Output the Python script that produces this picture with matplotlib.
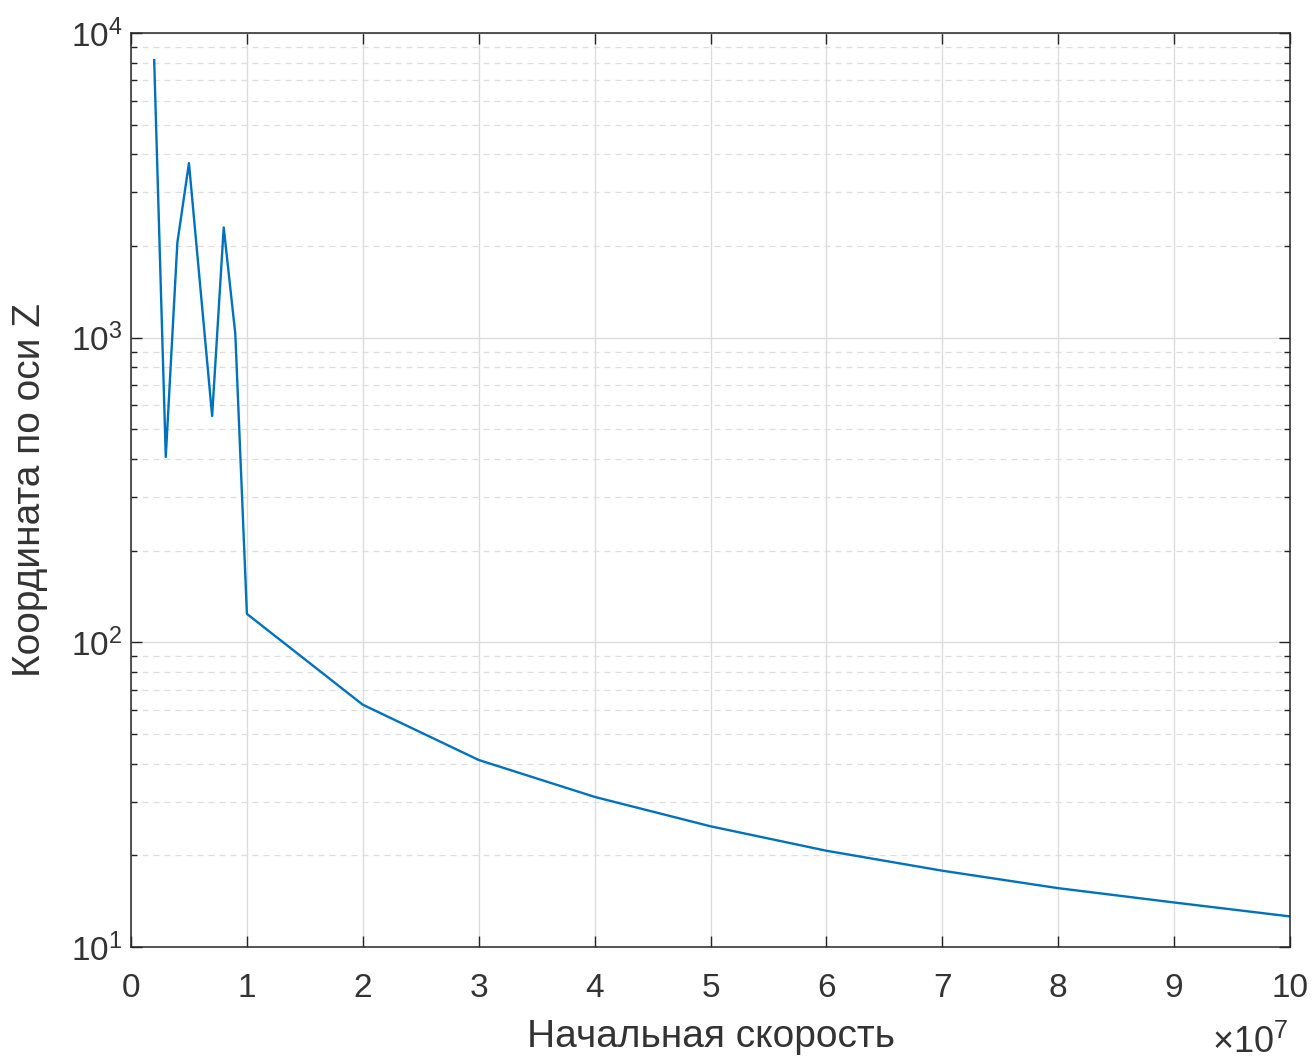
import math
import matplotlib
matplotlib.use("Agg")
import matplotlib.pyplot as plt
from matplotlib.ticker import FixedLocator, LogLocator, NullFormatter, FuncFormatter

plt.rcParams['font.family'] = ['Liberation Sans', 'DejaVu Sans']
plt.rcParams['mathtext.fontset'] = 'custom'
plt.rcParams['mathtext.rm'] = 'Liberation Sans'
plt.rcParams['mathtext.it'] = 'Liberation Sans'

# Data (x in units of 1e7)
velocity = [0.2, 0.3, 0.4, 0.5, 0.7, 0.8, 0.9, 1.0, 2, 3, 4, 5, 6, 7, 8, 9, 10]
coord_z = [8150, 406, 2050, 3740, 553, 2300, 1028, 124, 62.4, 41.1, 31.1, 24.9,
           20.7, 17.8, 15.6, 14.0, 12.6]
x_ticks = [0, 1, 2, 3, 4, 5, 6, 7, 8, 9, 10]
x_label = "Начальная скорость"
y_label = "Координата по оси Z"

fg = '#333333'
fig = plt.figure(figsize=(13.13, 10.59), dpi=100)
ax = fig.add_axes([131/1313, 1-947/1059, (1290-131)/1313, (947-33)/1059])

ax.plot([v*1e7 for v in velocity], coord_z, color='#0072BD', lw=1.7)
ax.set_yscale('log')
ax.set_xlim(0, 1e8)
ax.set_ylim(10, 1e4)

ax.xaxis.set_major_locator(FixedLocator([t*1e7 for t in x_ticks]))
ax.xaxis.set_major_formatter(FuncFormatter(lambda v, p: f"{v/1e7:g}"))
ax.yaxis.set_major_locator(LogLocator(base=10, numticks=10))
ax.yaxis.set_minor_locator(LogLocator(base=10, subs=range(2, 10), numticks=20))
ax.yaxis.set_minor_formatter(NullFormatter())
ax.yaxis.set_major_formatter(FuncFormatter(lambda v, p: r"$10^{%d}$" % round(math.log10(v))))

ax.grid(True, which='major', color='#dcdcdc', lw=1.0, ls='-')
ax.grid(True, which='minor', axis='y', color='#dedede', lw=0.9, ls=(0, (4.8, 4)))
ax.set_axisbelow(True)

ax.tick_params(which='both', direction='in', top=True, right=True, colors='#262626',
               labelcolor=fg, labelsize=24)
ax.tick_params(which='major', length=8, width=1.0)
ax.tick_params(which='minor', length=4.5, width=1.0)
ax.tick_params(axis='x', pad=19)
ax.tick_params(axis='y', pad=6)
for s in ax.spines.values():
    s.set_color('#262626')
    s.set_linewidth(1.1)

ax.set_xlabel(x_label, fontsize=28, color=fg)
ax.set_ylabel(y_label, fontsize=28, color=fg)
ax.xaxis.set_label_coords(0.5, (947-1037)/914)
ax.xaxis.label.set_va('center')
ax.yaxis.set_label_coords((30-131)/1159, 0.5)
ax.yaxis.label.set_va('center')
fig.text(1250/1313, 1-1043/1059, r"$\times10^{7}$", fontsize=26, color=fg,
         ha='center', va='center')

fig.savefig('out.png', dpi=100, facecolor='white')
